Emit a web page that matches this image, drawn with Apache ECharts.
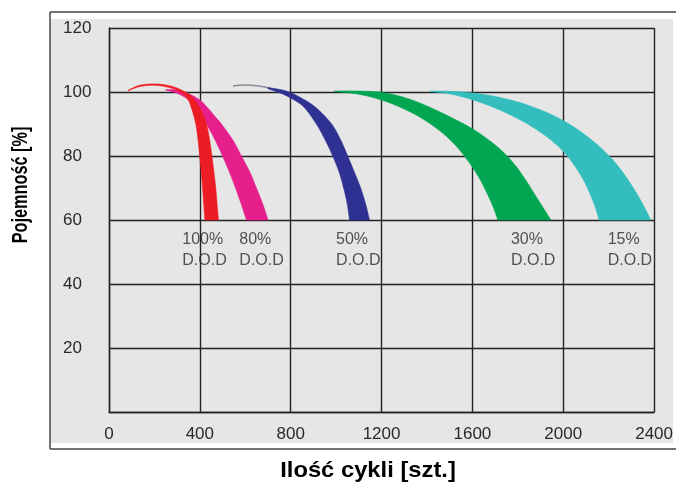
<!DOCTYPE html>
<html><head><meta charset="utf-8">
<script src="https://cdn.jsdelivr.net/npm/echarts@6/dist/echarts.min.js"></script>
<style>html,body{margin:0;padding:0;background:#fff}#c{width:676px;height:486px}</style>
</head><body><div id="c"></div>
<script>
// ---- data ----
const xTickLabels = ['0','400','800','1200','1600','2000','2400'];
const yTickLabels = ['','20','40','60','80','100','120'];
const dodNames = ['100%','80%','50%','30%','15%'];
const dodLabelX = [325,576,1002,1772,2198];
const dodLabelY = 57;

const dod100Outer = [[85,100.6],[130,102],[180,102.5],[230,102.4],[280,101.7],[325,100.4],[365,98.5],[400,95],[429,90],[443,85],[453,80],[462,75],[470,70],[476,65],[482,60]];
const dod100Inner = [[85,100.4],[130,101.6],[180,102.1],[230,101.9],[280,101.1],[320,99.8],[345,98],[363,95],[382,90],[392,85],[399,80],[406,75],[412,70],[417,65],[422,60]];

const dod80Outer = [[250,100.8],[300,100.6],[350,99.5],[400,97.5],[429,95.5],[465,92.5],[495,90],[545,85],[583,80],[620,75],[649,70],[677,65],[700,60]];
const dod80Inner = [[250,100.6],[300,99.6],[345,97.8],[385,95],[429,90],[467,85],[500,80],[530,75],[557,70],[582,65],[605,60]];

const dod50Tail = [[546,101.9],[600,102.2],[660,101.9],[710,101.2]];
const dod50Outer = [[700,101.4],[780,100.3],[850,98],[913,95],[980,90],[1020,85],[1051,80],[1080,75],[1108,70],[1130,65],[1147,60]];
const dod50Inner = [[700,101.0],[760,99.5],[820,97.3],[862,95],[913,90],[952,85],[985,80],[1013,75],[1033,70],[1049,65],[1059,60]];

const dod30Outer = [[990,100.3],[1100,100.3],[1200,99.9],[1290,98.5],[1367,96.6],[1450,94],[1530,91.2],[1600,88.5],[1670,85.1],[1730,81.6],[1785,77.4],[1830,73],[1870,68.5],[1910,64],[1946,60]];
const dod30Inner = [[990,100.2],[1100,99.3],[1200,97.5],[1290,95],[1360,92.5],[1420,89.8],[1480,86.5],[1530,83],[1570,79.5],[1605,76],[1635,72.5],[1660,69],[1683,65.5],[1700,62.5],[1712,60]];

const dod15Outer = [[1411,100.3],[1500,100.2],[1600,99.7],[1700,98.6],[1800,96.9],[1900,94.4],[1980,91.8],[2050,88.9],[2120,85.3],[2180,81.6],[2235,77.4],[2285,72.6],[2330,67.5],[2360,63.6],[2385,60]];
const dod15Inner = [[1411,100.2],[1500,99.4],[1600,97.6],[1700,95],[1780,92.4],[1850,89.7],[1920,86.4],[1975,83.2],[2020,79.8],[2060,75.9],[2095,71.7],[2122,67.5],[2142,63.8],[2158,60]];

// ---- chart ----
const chart = echarts.init(document.getElementById('c'));
const FONT = '"Liberation Sans", Arial, sans-serif';

// rendering helper: draw an edge through its points as a smooth cubic curve (pixel space)
function smoothEdge(px) {
  const out = [];
  const n = px.length;
  const P = i => px[Math.max(0, Math.min(n - 1, i))];
  for (let i = 0; i < n - 1; i++) {
    const p0 = P(i - 1), p1 = P(i), p2 = P(i + 1), p3 = P(i + 2);
    const c1 = [p1[0] + (p2[0] - p0[0]) / 6, p1[1] + (p2[1] - p0[1]) / 6];
    const c2 = [p2[0] - (p3[0] - p1[0]) / 6, p2[1] - (p3[1] - p1[1]) / 6];
    for (let s = 0; s < 10; s++) {
      const t = s / 10, u = 1 - t;
      out.push([
        u*u*u*p1[0] + 3*u*u*t*c1[0] + 3*u*t*t*c2[0] + t*t*t*p2[0],
        u*u*u*p1[1] + 3*u*u*t*c1[1] + 3*u*t*t*c2[1] + t*t*t*p2[1]
      ]);
    }
  }
  out.push(px[n - 1]);
  return out;
}

function band(outer, inner, color, z) {
  return {
    type: 'custom', coordinateSystem: 'cartesian2d', z: z, silent: true,
    data: [outer[0]],
    renderItem: function (params, api) {
      const o = smoothEdge(outer.map(p => api.coord(p)));
      const i = smoothEdge(inner.map(p => api.coord(p)));
      return {
        type: 'polygon',
        shape: { points: o.concat(i.reverse()) },
        style: { fill: color, stroke: color, lineWidth: 0.6 }
      };
    }
  };
}

const option = {
  animation: false,
  backgroundColor: '#ffffff',
  grid: { left: 109, right: 21, top: 28, bottom: 74, containLabel: false },
  graphic: [
    { type: 'rect', z: -10, shape: { x: 51, y: 19, width: 622, height: 424 }, style: { fill: '#e6e6e6' } },
    { type: 'line', z: -9, shape: { x1: 50, y1: 12, x2: 676, y2: 12 }, style: { stroke: '#444', lineWidth: 1.5 } },
    { type: 'line', z: -9, shape: { x1: 50, y1: 449, x2: 676, y2: 449 }, style: { stroke: '#444', lineWidth: 1.5 } },
    { type: 'line', z: -9, shape: { x1: 50, y1: 12, x2: 50, y2: 449 }, style: { stroke: '#444', lineWidth: 1.5 } },
    { type: 'text', x: 21, y: 185, rotation: Math.PI / 2, scaleX: 0.74,
      style: { text: 'Pojemność [%]', font: 'bold 22px ' + FONT, fill: '#000', textAlign: 'center', textVerticalAlign: 'middle' } },
    { type: 'text', x: 368, y: 471, scaleX: 1.08,
      style: { text: 'Ilość cykli [szt.]', font: 'bold 22px ' + FONT, fill: '#000', textAlign: 'center', textVerticalAlign: 'middle' } }
  ],
  xAxis: {
    type: 'value', min: 0, max: 2400, interval: 400,
    axisLine: { show: true, lineStyle: { color: '#222', width: 1.4 } },
    axisTick: { show: false },
    splitLine: { show: true, lineStyle: { color: '#222', width: 1.4 } },
    axisLabel: { margin: 14, fontSize: 17, color: '#2a2a2a', fontFamily: FONT,
      formatter: (v, i) => xTickLabels[i] }
  },
  yAxis: {
    type: 'value', min: 0, max: 120, interval: 20,
    axisLine: { show: true, lineStyle: { color: '#222', width: 1.4 } },
    axisTick: { show: false },
    splitLine: { show: true, lineStyle: { color: '#222', width: 1.4 } },
    axisLabel: { margin: 46, align: 'left', fontSize: 17, color: '#2a2a2a', fontFamily: FONT,
      formatter: (v, i) => yTickLabels[i] }
  },
  series: [
    band(dod80Outer, dod80Inner, '#e61f8c', 5),
    band(dod100Outer, dod100Inner, '#ec1c24', 6),
    { type: 'line', data: dod50Tail, smooth: true, symbol: 'none', z: 5,
      lineStyle: { color: '#8a8a98', width: 1.5 } },
    band(dod50Outer, dod50Inner, '#2e3192', 6),
    band(dod30Outer, dod30Inner, '#00a651', 6),
    band(dod15Outer, dod15Inner, '#33bdbd', 6),
    { type: 'scatter', z: 8, symbol: 'rect', symbolSize: 1,
      itemStyle: { color: 'transparent' },
      data: dodLabelX.map(x => [x, dodLabelY]),
      label: { show: true, position: [0, 0], align: 'left', verticalAlign: 'top',
        fontSize: 16, lineHeight: 21, color: '#2a2a2a', fontFamily: FONT,
        formatter: p => dodNames[p.dataIndex] + '\nD.O.D' } }
  ]
};
chart.setOption(option);
</script>
</body></html>
